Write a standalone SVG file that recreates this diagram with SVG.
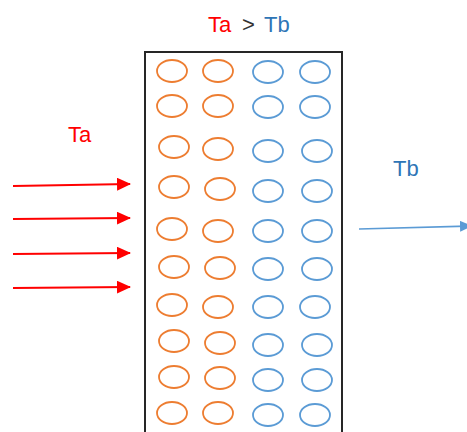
<svg xmlns="http://www.w3.org/2000/svg" width="467" height="432" viewBox="0 0 467 432">
  <style>
    .lbl { font-family: "Liberation Sans", Arial, sans-serif; font-size: 22px; }
    .red { fill: #FF0000; }
    .blue { fill: #2E75B6; }
    .dark { fill: #333333; }
    .hot { fill: none; stroke: #ED7D31; stroke-width: 1.8; }
    .cold { fill: none; stroke: #5B9BD5; stroke-width: 1.8; }
    .wall { fill: #FFFFFF; stroke: #262626; stroke-width: 2; }
    .inflow { stroke: #FF0000; stroke-width: 2; fill: none; }
    .outflow { stroke: #5B9BD5; stroke-width: 1.6; fill: none; }
  </style>
  <defs>
    <marker id="redHead" markerWidth="14" markerHeight="13" refX="13" refY="6.5" orient="auto" markerUnits="userSpaceOnUse" viewBox="0 0 14 13">
      <path d="M0,0 L14,6.5 L0,13 Z" fill="#FF0000"/>
    </marker>
    <marker id="blueHead" markerWidth="12" markerHeight="11" refX="11" refY="5.5" orient="auto" markerUnits="userSpaceOnUse" viewBox="0 0 12 11">
      <path d="M0,0 L12,5.5 L0,11 Z" fill="#5B9BD5"/>
    </marker>
  </defs>

  <rect fill="#FFFFFF" x="0" y="0" width="467" height="432"/>

  <!-- wall block with particles -->
  <g id="wall">
    <rect class="wall" x="145" y="52" width="197" height="392"/>
    <g id="hot-particles">
      <ellipse class="hot" cx="172" cy="71" rx="15" ry="11"/>
      <ellipse class="hot" cx="218" cy="71" rx="15" ry="11"/>
      <ellipse class="hot" cx="172" cy="106" rx="15" ry="11"/>
      <ellipse class="hot" cx="218" cy="106" rx="15" ry="11"/>
      <ellipse class="hot" cx="174" cy="147" rx="15" ry="11"/>
      <ellipse class="hot" cx="218" cy="149" rx="15" ry="11"/>
      <ellipse class="hot" cx="174" cy="187" rx="15" ry="11"/>
      <ellipse class="hot" cx="220" cy="189" rx="15" ry="11"/>
      <ellipse class="hot" cx="172" cy="229" rx="15" ry="11"/>
      <ellipse class="hot" cx="218" cy="231" rx="15" ry="11"/>
      <ellipse class="hot" cx="174" cy="267" rx="15" ry="11"/>
      <ellipse class="hot" cx="220" cy="268" rx="15" ry="11"/>
      <ellipse class="hot" cx="172" cy="305" rx="15" ry="11"/>
      <ellipse class="hot" cx="218" cy="307" rx="15" ry="11"/>
      <ellipse class="hot" cx="174" cy="341" rx="15" ry="11"/>
      <ellipse class="hot" cx="220" cy="343" rx="15" ry="11"/>
      <ellipse class="hot" cx="174" cy="377" rx="15" ry="11"/>
      <ellipse class="hot" cx="220" cy="378" rx="15" ry="11"/>
      <ellipse class="hot" cx="172" cy="413" rx="15" ry="11"/>
      <ellipse class="hot" cx="218" cy="413" rx="15" ry="11"/>
    </g>
    <g id="cold-particles">
      <ellipse class="cold" cx="268" cy="72" rx="15" ry="11"/>
      <ellipse class="cold" cx="315" cy="72" rx="15" ry="11"/>
      <ellipse class="cold" cx="268" cy="107" rx="15" ry="11"/>
      <ellipse class="cold" cx="315" cy="107" rx="15" ry="11"/>
      <ellipse class="cold" cx="268" cy="151" rx="15" ry="11"/>
      <ellipse class="cold" cx="317" cy="151" rx="15" ry="11"/>
      <ellipse class="cold" cx="268" cy="191" rx="15" ry="11"/>
      <ellipse class="cold" cx="317" cy="191" rx="15" ry="11"/>
      <ellipse class="cold" cx="268" cy="231" rx="15" ry="11"/>
      <ellipse class="cold" cx="317" cy="231" rx="15" ry="11"/>
      <ellipse class="cold" cx="268" cy="269" rx="15" ry="11"/>
      <ellipse class="cold" cx="317" cy="269" rx="15" ry="11"/>
      <ellipse class="cold" cx="268" cy="307" rx="15" ry="11"/>
      <ellipse class="cold" cx="315" cy="307" rx="15" ry="11"/>
      <ellipse class="cold" cx="268" cy="345" rx="15" ry="11"/>
      <ellipse class="cold" cx="317" cy="345" rx="15" ry="11"/>
      <ellipse class="cold" cx="268" cy="380" rx="15" ry="11"/>
      <ellipse class="cold" cx="317" cy="380" rx="15" ry="11"/>
      <ellipse class="cold" cx="268" cy="415" rx="15" ry="11"/>
      <ellipse class="cold" cx="315" cy="415" rx="15" ry="11"/>
    </g>
  </g>

  <!-- labels -->
  <g id="title">
    <text class="lbl red" x="208" y="32">Ta</text>
    <text class="lbl dark" x="242" y="32">&gt;</text>
    <text class="lbl blue" x="264" y="32">Tb</text>
  </g>
  <g id="label-ta">
    <text class="lbl red" x="68" y="142">Ta</text>
  </g>
  <g id="label-tb">
    <text class="lbl blue" x="393" y="176">Tb</text>
  </g>

  <!-- heat flow arrows -->
  <g id="connectors">
    <line class="inflow" x1="13" y1="186" x2="130" y2="184" marker-end="url(#redHead)"/>
    <line class="inflow" x1="13" y1="219" x2="130" y2="218" marker-end="url(#redHead)"/>
    <line class="inflow" x1="13" y1="254" x2="130" y2="253" marker-end="url(#redHead)"/>
    <line class="inflow" x1="13" y1="288" x2="130" y2="287" marker-end="url(#redHead)"/>
    <line class="outflow" x1="359" y1="229" x2="471" y2="226" marker-end="url(#blueHead)"/>
  </g>
</svg>
